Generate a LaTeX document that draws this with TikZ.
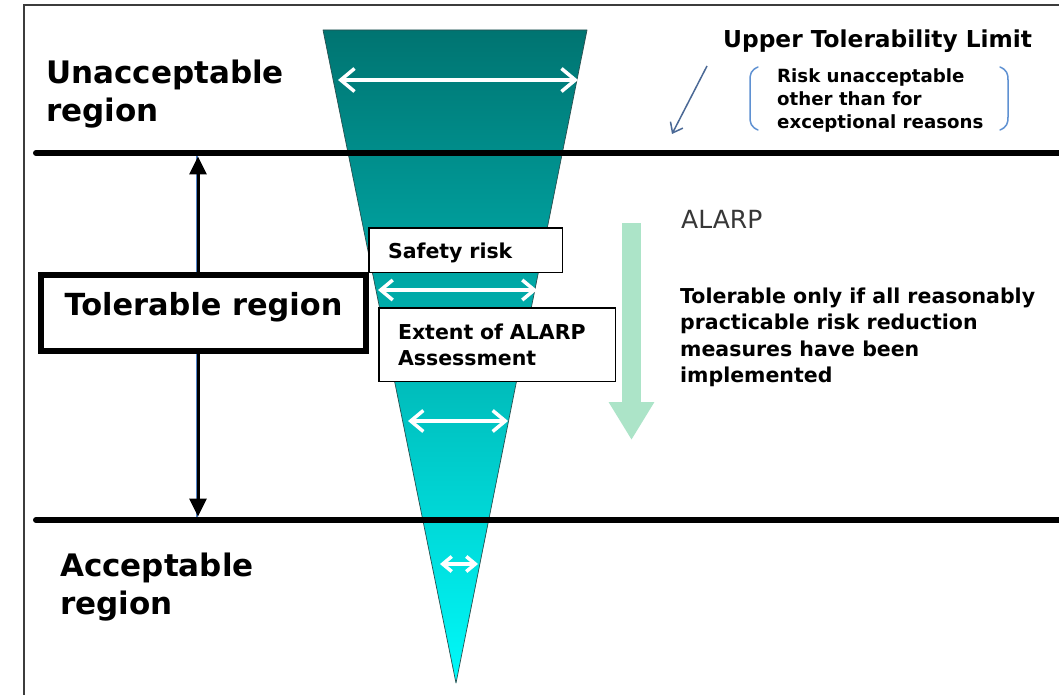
\documentclass[tikz,border=0pt]{standalone}
\usepackage{fontspec}
\setmainfont{DejaVu Sans}
\usetikzlibrary{arrows.meta}

\definecolor{tealtop}{RGB}{0,116,113}
\definecolor{tealmid}{RGB}{0,178,177}
\definecolor{tealbot}{RGB}{0,250,250}
\definecolor{tealedge}{RGB}{40,80,80}
\definecolor{alarpgreen}{RGB}{172,228,200}
\definecolor{bracketblue}{RGB}{95,145,210}
\definecolor{pointerblue}{RGB}{75,105,150}
\definecolor{shadowblue}{RGB}{80,130,200}
\definecolor{framegray}{RGB}{60,60,60}
\definecolor{textgray}{RGB}{55,55,55}

\begin{document}
\begin{tikzpicture}[x=1pt,y=-1pt,
  frame/.style={draw=framegray,line width=2},
  limitline/.style={line width=6,line cap=round},
  regionlabel/.style={anchor=north west,inner sep=0,align=left,
    font=\fontsize{31}{38}\selectfont\bfseries},
  notetext/.style={anchor=north west,inner sep=0,align=left,
    font=\fontsize{20.5}{26.5}\selectfont\bfseries},
  smallnote/.style={anchor=north west,inner sep=0,align=left,
    font=\fontsize{18.2}{23}\selectfont\bfseries},
  labelbox/.style={draw,line width=1.5,fill=white,inner xsep=19.25,inner ysep=0,
    align=left,font=\fontsize{20.5}{26}\selectfont\bfseries},
  spanarrow/.style={white,line width=3.5,line cap=round,
    {Straight Barb[length=#1*0.6pt,width=#1*1pt]}-{Straight Barb[length=#1*0.6pt,width=#1*1pt]}},
  bracket/.style={draw=bracketblue,line width=1.5,line cap=round},
]
\useasboundingbox (0,0) rectangle (1059,695);
\fill[white] (0,0) rectangle (1059,695);

% outer frame (top and left sides)
\draw[frame] (1059,5) -- (24,5) -- (24,695);

% risk triangle, darkest at the top
\coordinate (triTL) at (323,30);
\coordinate (triTR) at (587,30);
\coordinate (triApex) at (456,683);
\shade[top color=tealtop,middle color=tealmid,bottom color=tealbot]
  (triTL) -- (triTR) -- (triApex) -- cycle;
\draw[tealedge,line width=0.7,line join=round] (triTL) -- (triTR) -- (triApex) -- cycle;

% width arrows inside the triangle
\coordinate (w1l) at (338,80);  \coordinate (w1r) at (578,80);
\coordinate (w2l) at (378,290); \coordinate (w2r) at (537,290);
\coordinate (w3l) at (408,421); \coordinate (w3r) at (508,421);
\coordinate (w4l) at (440,564); \coordinate (w4r) at (478,564);
\draw[spanarrow=23] (w1l) -- (w1r);
\draw[spanarrow=20] (w2l) -- (w2r);
\draw[spanarrow=21] (w3l) -- (w3r);
\draw[spanarrow=15] (w4l) -- (w4r);

% upper and lower tolerability limits
\coordinate (upL) at (36,153);  \coordinate (upR) at (1062,153);
\coordinate (loL) at (36,520);  \coordinate (loR) at (1062,520);
\draw[limitline] (upL) -- (upR);
\draw[limitline] (loL) -- (loR);

% extent of the tolerable region
\coordinate (tolTop) at (198,156.5);
\coordinate (tolBot) at (198,516.5);
\draw[shadowblue,line width=2,transform canvas={xshift=-1.5pt}] (tolTop) -- (tolBot);
\draw[black,line width=3,{Triangle[length=18pt,width=17pt]}-{Triangle[length=18pt,width=17pt]}]
  (tolTop) -- (tolBot);

% ALARP direction arrow
\coordinate (alarpStart) at (631.5,223);
\coordinate (alarpEnd) at (631.5,440);
\draw[alarpgreen,line width=19,-{Triangle[length=38pt,width=43pt]}] (alarpStart) -- (alarpEnd);

% pointer to the upper limit
\coordinate (ptrStart) at (707,66);
\coordinate (ptrEnd) at (672,134);
\draw[pointerblue,line width=1.5,-{Straight Barb[length=9pt,width=14pt]}] (ptrStart) -- (ptrEnd);

% brackets round the upper-limit note
\draw[bracket] (758,67) .. controls (751,70) and (750,74) .. (750,80) -- (750,117)
  .. controls (750,123) and (751,127) .. (758,130);
\draw[bracket] (1000,67) .. controls (1007,70) and (1008,74) .. (1008,80) -- (1008,117)
  .. controls (1008,123) and (1007,127) .. (1000,130);

% labelled boxes
\node[draw,line width=6,fill=white,minimum width=325,minimum height=76,inner sep=0,
  text height=22,text depth=17,font=\fontsize{30.4}{36}\selectfont\bfseries]
  (tolbox) at (203.5,313) {Tolerable region};
\node[labelbox,text width=155,minimum height=44.5,text height=20,text depth=4]
  (safety) at (465.5,250) {Safety risk};
\node[labelbox,text width=198,minimum height=73.5]
  (extent) at (497,344.5) {Extent of ALARP\\Assessment};

% region labels
\node[regionlabel] (unacc) at (46,59.5) {Unacceptable\\region};
\node[regionlabel] (acc) at (60,552.5) {Acceptable\\region};

% notes on the right
\node[anchor=base west,inner sep=0,font=\fontsize{23.3}{28}\selectfont\bfseries]
  (upper) at (723,48) {Upper Tolerability Limit};
\node[smallnote] (upnote) at (777,68.2) {Risk unacceptable\\other than for\\exceptional reasons};
\node[anchor=base west,inner sep=0,text=textgray,font=\fontsize{25}{29}\selectfont]
  (alarp) at (681,228) {ALARP};
\node[notetext] (tolnote) at (680,287.4)
  {Tolerable only if all reasonably\\practicable risk reduction\\measures have been\\implemented};
\end{tikzpicture}
\end{document}
